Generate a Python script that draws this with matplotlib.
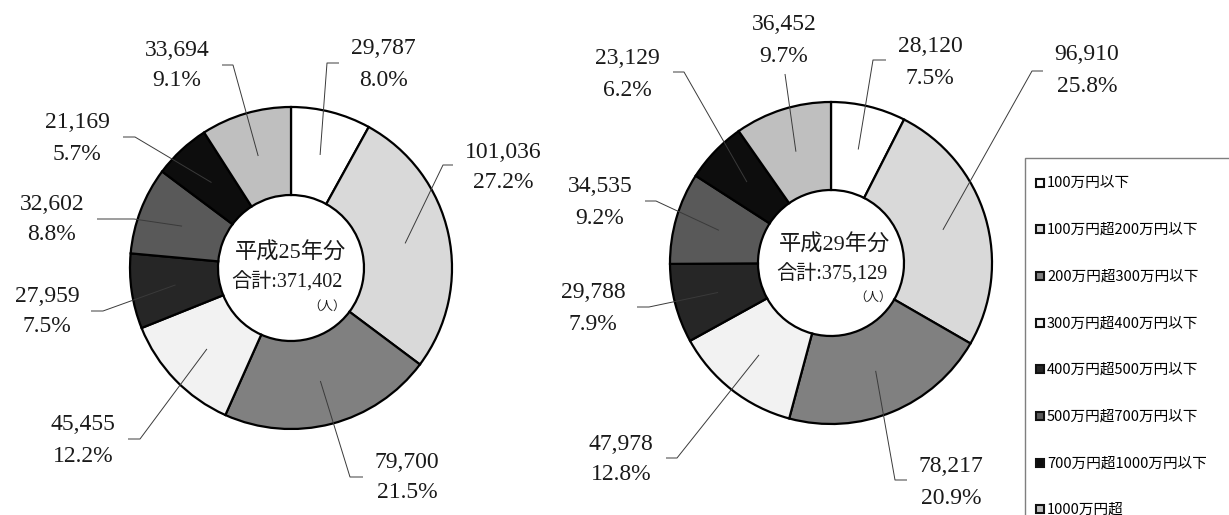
import matplotlib
matplotlib.use('Agg')
import matplotlib.pyplot as plt
from matplotlib.patches import Rectangle
import numpy as np

# ---------------- data ----------------
categories = ['100万円以下', '100万円超200万円以下', '200万円超300万円以下',
              '300万円超400万円以下', '400万円超500万円以下', '500万円超700万円以下',
              '700万円超1000万円以下', '1000万円超']
values_h25 = [29787, 101036, 79700, 45455, 27959, 32602, 21169, 33694]
pct_h25 = [8.0, 27.2, 21.5, 12.2, 7.5, 8.8, 5.7, 9.1]
values_h29 = [28120, 96910, 78217, 47978, 29788, 34535, 23129, 36452]
pct_h29 = [7.5, 25.8, 20.9, 12.8, 7.9, 9.2, 6.2, 9.7]
titles = ['平成25年分', '平成29年分']
totals = [371402, 375129]
unit = '（人）'

colors = ['#ffffff', '#d9d9d9', '#808080', '#f2f2f2',
          '#262626', '#595959', '#0d0d0d', '#bfbfbf']

# ---------------- layout ----------------
W, H = 1229, 515
R = 161
RING = 88

charts = [
    dict(values=values_h25, pct=pct_h25, title=titles[0], total=totals[0],
         center=(291, 268),
         title_pos=[(290, 253), (287, 282), (327, 307)],
         labels=[(383, 49, (327, 63), (339, 63)),
                 (503, 152, (443, 165), (453, 165)),
                 (407, 462, (350, 477), (363, 477)),
                 (83, 425, (140, 439), (128, 439)),
                 (47, 296, (103, 311), (91, 311)),
                 (52, 204, (134, 219), (97, 219)),
                 (77, 123, (135, 137), (123, 137)),
                 (177, 50, (233, 65), (222, 65))]),
    dict(values=values_h29, pct=pct_h29, title=titles[1], total=totals[1],
         center=(831, 263),
         title_pos=[(835, 245), (832, 274), (873, 298)],
         labels=[(930, 47, (873, 60), (886, 60)),
                 (1087, 55, (1032, 71), (1043, 71)),
                 (951, 467, (895, 480), (907, 480)),
                 (621, 444, (677, 458), (666, 458)),
                 (593, 293, (649, 307), (637, 307)),
                 (600, 187, (656, 201), (645, 201)),
                 (627, 59, (684, 72), (673, 72)),
                 (784, 25, (785, 74), None)]),
]

serif = ['Liberation Serif', 'Noto Sans CJK JP', 'DejaVu Sans']
mixed = ['Liberation Serif', 'Noto Sans CJK JP', 'DejaVu Sans']
gothic = ['Noto Sans CJK JP', 'DejaVu Sans']
txt_color = '#1a1a1a'
line_color = '#3a3a3a'

fig = plt.figure(figsize=(W / 100, H / 100), dpi=100)
fig.patch.set_facecolor('white')
ax = fig.add_axes([0, 0, 1, 1])

for ch in charts:
    cx, cy = ch['center']
    wedges, _ = ax.pie(ch['values'], radius=R, center=(cx, cy),
                       startangle=-90, counterclock=True, colors=colors,
                       wedgeprops=dict(width=RING, edgecolor='black',
                                       linewidth=1.6, joinstyle='miter'))
    for w, v, p, lab in zip(wedges, ch['values'], ch['pct'], ch['labels']):
        tx, ty, elbow, end = lab
        mid = np.deg2rad((w.theta1 + w.theta2) / 2)
        ax_ = cx + 0.725 * R * np.cos(mid)
        ay_ = cy + 0.725 * R * np.sin(mid)
        xs = [ax_, elbow[0]]
        ys = [ay_, elbow[1]]
        if end is not None:
            xs.append(end[0])
            ys.append(end[1])
        ax.plot(xs, ys, color=line_color, lw=0.7, solid_capstyle='butt', zorder=5)
        ax.text(tx, ty, f'{v:,}', ha='center', va='center', fontsize=17,
                family=serif, color=txt_color)
        ax.text(tx, ty + 31, f'{p:.1f}%', ha='center', va='center', fontsize=17,
                family=serif, color=txt_color)
    (t1x, t1y), (t2x, t2y), (t3x, t3y) = ch['title_pos']
    ax.text(t1x, t1y, ch['title'], ha='center', va='center', fontsize=16,
            family=mixed, color=txt_color)
    ax.text(t2x, t2y, f"合計:{ch['total']:,}", ha='center', va='center',
            fontsize=14.5, family=mixed, color=txt_color)
    ax.text(t3x, t3y, unit, ha='center', va='center', fontsize=9,
            family=mixed, color=txt_color)

# legend box
ax.add_patch(Rectangle((1025, 158), 400, 500, facecolor='white',
                       edgecolor='#7f7f7f', lw=1.0, zorder=1))
for i, (cat, col) in enumerate(zip(categories, colors)):
    y = 183.3 + 46.67 * i
    ax.add_patch(Rectangle((1035.5, y - 4.5), 8, 8, facecolor=col,
                           edgecolor='#111111', lw=1.5, zorder=3))
    ax.text(1047, y, cat, ha='left', va='center', fontsize=10.5,
            family=gothic, color='#000000', zorder=3)

ax.set_xlim(0, W)
ax.set_ylim(H, 0)
ax.set_aspect('auto')
ax.axis('off')

fig.savefig('out.png', dpi=100, facecolor='white')
